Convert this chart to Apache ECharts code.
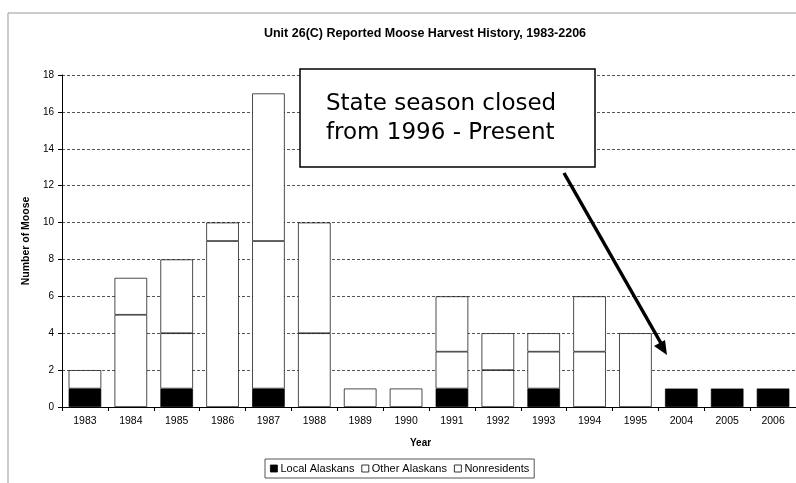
<!DOCTYPE html>
<html>
<head>
<meta charset="utf-8">
<script src="https://cdn.jsdelivr.net/npm/echarts@6/dist/echarts.min.js"></script>
<style>
  html, body { margin: 0; padding: 0; background: #fff; }
  #chart { width: 796px; height: 483px; }
</style>
</head>
<body>
<div id="chart"></div>
<script>
// year categories
const years = ['1983', '1984', '1985', '1986', '1987', '1988', '1989', '1990',
  '1991', '1992', '1993', '1994', '1995', '2004', '2005', '2006']
// harvest by hunter group
const localAlaskans = [1, 0, 1, 0, 1, 0, 0, 0, 1, 0, 1, 0, 0, 1, 1, 1]
const otherAlaskans = [1, 5, 3, 9, 8, 4, 1, 1, 2, 2, 2, 3, 4, 0, 0, 0]
const nonresidents  = [0, 2, 4, 1, 8, 6, 0, 0, 3, 2, 1, 3, 0, 0, 0, 0]
const yTicks = { min: 0, max: 18, interval: 2 }

const myChart = echarts.init(document.getElementById('chart'))

// zero segments are left out so they draw no border
const noZero = (arr) => arr.map(v => (v === 0 ? null : v))

const barStyle = (fill) => ({
  color: fill,
  borderColor: '#000',
  borderWidth: 0.7,
})

const option = {
  animation: false,
  backgroundColor: '#fff',
  textStyle: { fontFamily: 'Liberation Sans' },
  title: {
    text: 'Unit 26(C) Reported Moose Harvest History, 1983-2206',
    left: 420,
    top: 22,
    textAlign: 'center',
    textStyle: { fontSize: 12.5, fontWeight: 'bold', color: '#000', fontFamily: 'Liberation Sans' },
  },
  grid: {
    left: 62,
    top: 75,
    width: 738,
    height: 332,
  },
  legend: {
    left: 265,
    top: 459,
    icon: 'rect',
    itemWidth: 7,
    itemHeight: 7,
    itemGap: 7,
    padding: [4, 5, 4, 5],
    borderColor: '#555',
    borderWidth: 1,
    itemStyle: { borderWidth: 0.8, borderColor: '#000' },
    textStyle: { fontSize: 11, color: '#000', padding: [0, 0, 0, -2] },
    data: ['Local Alaskans', 'Other Alaskans', 'Nonresidents'],
  },
  xAxis: {
    type: 'category',
    data: years,
    axisLine: { lineStyle: { color: '#000', width: 1 } },
    axisTick: { show: true, length: 4, lineStyle: { color: '#000' } },
    axisLabel: { fontSize: 10.5, color: '#000', margin: 9 },
  },
  yAxis: {
    type: 'value',
    min: yTicks.min,
    max: yTicks.max,
    interval: yTicks.interval,
    name: 'Number of Moose',
    nameLocation: 'middle',
    nameGap: 28,
    nameTextStyle: { fontSize: 10.5, fontWeight: 'bold', color: '#000' },
    axisLine: { show: true, lineStyle: { color: '#000' } },
    axisTick: { show: true, length: 4, lineStyle: { color: '#000' } },
    axisLabel: { fontSize: 10, color: '#000', margin: 8 },
    splitLine: { lineStyle: { color: '#555', type: [3, 2], width: 1 } },
  },
  series: [
    {
      name: 'Local Alaskans',
      type: 'bar',
      stack: 'harvest',
      barWidth: '71%',
      itemStyle: barStyle('#000'),
      data: noZero(localAlaskans),
    },
    {
      name: 'Other Alaskans',
      type: 'bar',
      stack: 'harvest',
      itemStyle: barStyle('#fff'),
      data: noZero(otherAlaskans),
    },
    {
      name: 'Nonresidents',
      type: 'bar',
      stack: 'harvest',
      itemStyle: barStyle('#fff'),
      data: noZero(nonresidents),
    },
  ],
  graphic: [
    // outer frame
    { type: 'line', shape: { x1: 8, y1: 13, x2: 796, y2: 13 }, style: { stroke: '#999', lineWidth: 1 } },
    { type: 'line', shape: { x1: 8, y1: 13, x2: 8, y2: 483 }, style: { stroke: '#999', lineWidth: 1 } },
    // x axis title
    {
      type: 'text', left: 410, top: 438,
      style: { text: 'Year', font: 'bold 10px "Liberation Sans"', fill: '#000' },
    },
    // annotation box
    {
      type: 'rect', shape: { x: 300, y: 69, width: 295, height: 98 },
      style: { fill: '#fff', stroke: '#000', lineWidth: 1.5 }, z: 10,
    },
    {
      type: 'text', left: 326, top: 90, z: 11,
      style: {
        text: 'State season closed\nfrom 1996 - Present',
        font: '23px "DejaVu Sans"',
        lineHeight: 29,
        fill: '#000',
      },
    },
    // arrow
    { type: 'line', z: 11, shape: { x1: 564, y1: 173, x2: 662, y2: 345 }, style: { stroke: '#000', lineWidth: 3.5 } },
    {
      type: 'polygon', z: 11,
      shape: { points: [[667, 355], [654, 346], [665, 340]] },
      style: { fill: '#000' },
    },
  ],
}

myChart.setOption(option)
</script>
</body>
</html>
